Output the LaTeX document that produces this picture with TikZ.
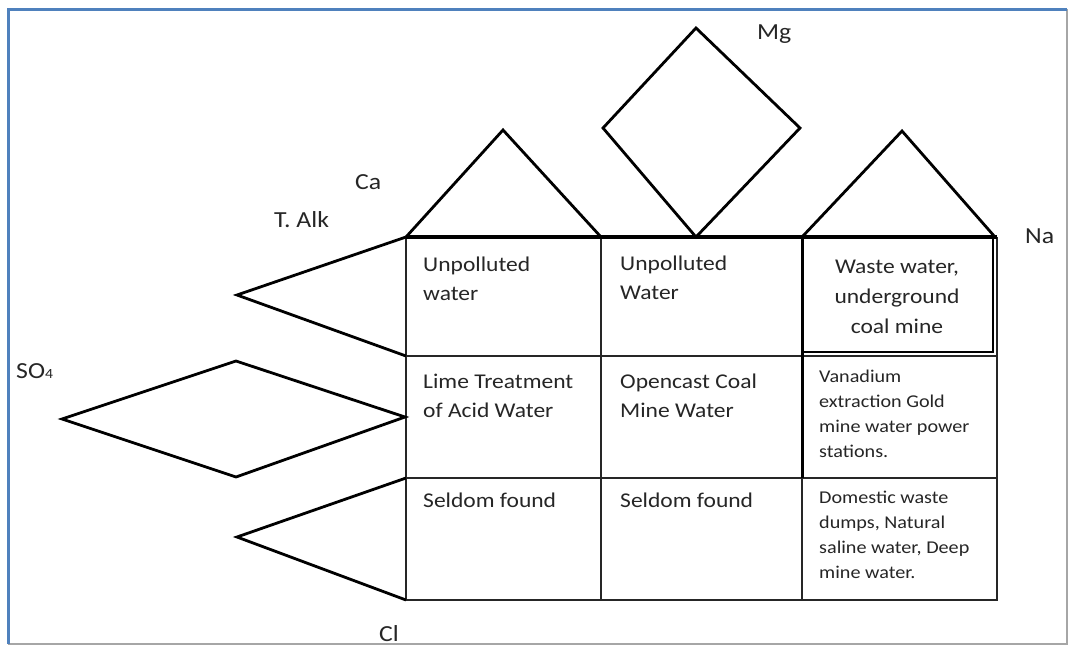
\documentclass[tikz,border=0pt]{standalone}
\usepackage{fontspec}
\setmainfont{Carlito}[FakeStretch=1.12]
\definecolor{frameblue}{RGB}{79,129,189}
\definecolor{framegray}{RGB}{166,166,166}
\definecolor{ink}{RGB}{38,38,38}
\begin{document}
\begin{tikzpicture}[x=1pt,y=-1pt,
  figshape/.style={line width=2.8pt, line join=miter, draw=black},
  gridline/.style={line width=1.8pt, draw=black!85},
  thickline/.style={line width=3pt, draw=black},
  bigtext/.style={font=\fontsize{21}{29}\selectfont, inner sep=0pt, align=left, text=ink, anchor=base west},
  smalltext/.style={font=\fontsize{18}{25}\selectfont, inner sep=0pt, align=left, text=ink, anchor=base west},
  labeltext/.style={font=\fontsize{23}{28}\selectfont, inner sep=0pt, anchor=base west, text=ink}]
\useasboundingbox (0,0) rectangle (1070,646);
\fill[white] (0,0) rectangle (1070,646);
% frame
\draw[line width=2pt, draw=framegray] (8,9.5) -- (1067,9.5) -- (1067,644) -- (8,644);
\draw[line width=3pt, draw=frameblue] (1067,9.5) -- (8,9.5) -- (8,644);
% table corners
\coordinate (tl) at (406,237);
\coordinate (tr) at (997,237);
\coordinate (bl) at (406,600);
\coordinate (br) at (997,600);
\coordinate (r1l) at (406,356);
\coordinate (r1r) at (997,356);
\coordinate (r2l) at (406,478);
\coordinate (r2r) at (997,478);
\coordinate (c1t) at (601,237);
\coordinate (c1b) at (601,600);
\coordinate (c2t) at (802,237);
\coordinate (c2m) at (802,478);
\coordinate (c2b) at (802,600);
% grid
\draw[gridline] (tl) -- (bl) -- (br) -- (tr);
\draw[gridline] (r1l) -- (r1r);
\draw[gridline] (r2l) -- (r2r);
\draw[gridline] (c1t) -- (c1b);
\draw[gridline] (c2m) -- (c2b);
\draw[thickline] (c2t) -- (c2m);
\draw[line width=3.6pt] (tl) -- (tr);
\draw[line width=2.6pt] (802,237) rectangle (993,352);
% top shapes
\coordinate (caapex) at (503,130);
\draw[figshape] (tl) -- (caapex) -- (c1t);
\coordinate (mgtop) at (696,28);
\coordinate (mgleft) at (603,128);
\coordinate (mgright) at (800,128);
\coordinate (mgbot) at (696,237);
\draw[figshape] (mgtop) -- (mgright) -- (mgbot) -- (mgleft) -- cycle;
\coordinate (naapex) at (902,131);
\coordinate (naright) at (995,237);
\draw[figshape] (c2t) -- (naapex) -- (naright);
% left shapes
\coordinate (alktip) at (237,295);
\draw[figshape] (tl) -- (alktip) -- (r1l);
\coordinate (sotip) at (62,419);
\coordinate (sotop) at (236,361);
\coordinate (sobot) at (236,477);
\coordinate (soright) at (405,417);
\draw[figshape] (sotip) -- (sotop) -- (soright) -- (sobot) -- cycle;
\coordinate (cltip) at (237,537);
\draw[figshape] (r2l) -- (cltip) -- (bl);
% labels
\node[labeltext] (ca) at (355,189) {Ca};
\node[labeltext] (talk) at (274,227) {T. Alk};
\node[labeltext] (mg) at (757,39) {Mg};
\node[labeltext] (na) at (1025,243) {Na};
\node[labeltext] (so4) at (16,378) {SO{\fontsize{14}{14}\selectfont 4}};
\node[labeltext] (cl) at (379,641) {Cl};
% cells (anchor = baseline of last line)
\node[bigtext] (c11) at (423,300) {Unpolluted\\water};
\node[bigtext] (c12) at (620,299) {Unpolluted\\Water};
\node[bigtext, font=\fontsize{21}{30}\selectfont, align=center, anchor=base] (c13) at (897,333) {Waste water,\\underground\\coal mine};
\node[bigtext] (c21) at (423,417) {Lime Treatment\\of Acid Water};
\node[bigtext] (c22) at (620,417) {Opencast Coal\\Mine Water};
\node[smalltext] (c23) at (819,457) {Vanadium\\extraction Gold\\mine water power\\stations.};
\node[bigtext] (c31) at (423,507) {Seldom found};
\node[bigtext] (c32) at (620,507) {Seldom found};
\node[smalltext] (c33) at (819,578) {Domestic waste\\dumps, Natural\\saline water, Deep\\mine water.};
\end{tikzpicture}
\end{document}
